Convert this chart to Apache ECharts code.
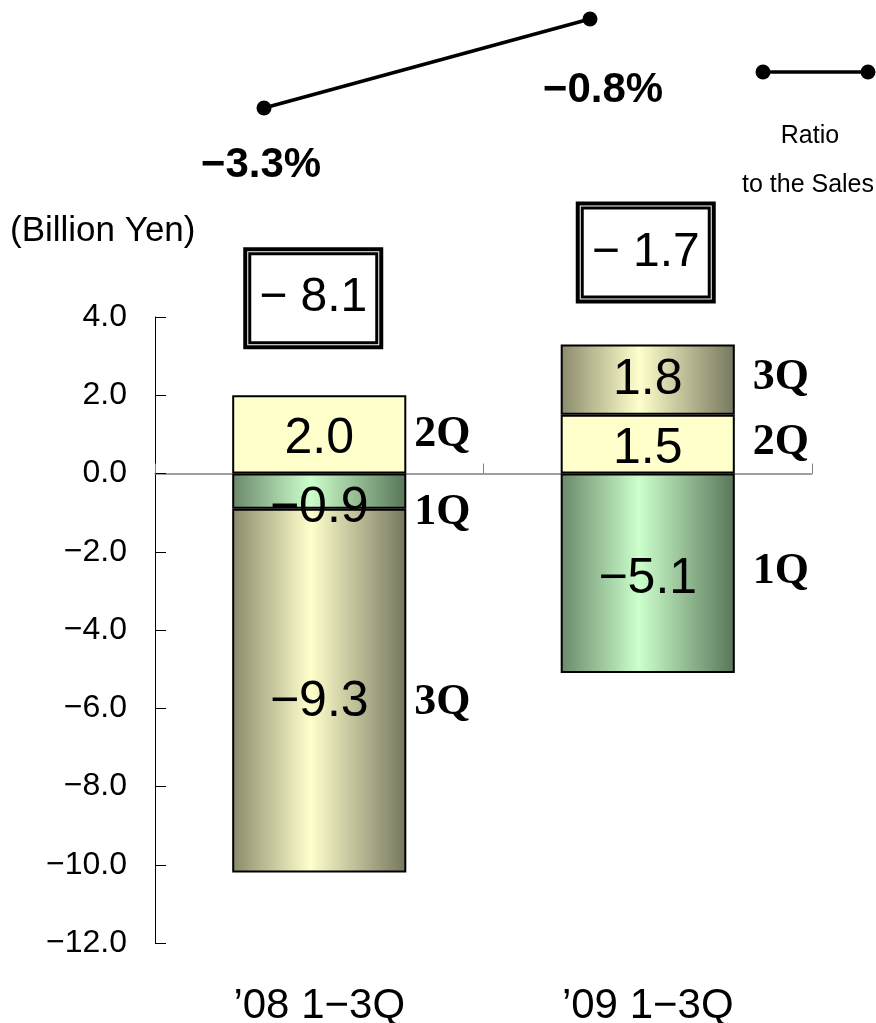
<!DOCTYPE html>
<html>
<head>
<meta charset="utf-8">
<script src="https://cdn.jsdelivr.net/npm/echarts@6/dist/echarts.min.js"></script>
<style>
html,body{margin:0;padding:0;background:#fff;}
#c{width:876px;height:1023px;}
</style>
</head>
<body>
<div id="c"></div>
<script>
// ---- data ----
var categories = ["\u201908 1\u22123Q", "\u201909 1\u22123Q"];
var q1 = [-0.9, -5.1];
var q2 = [2.0, 1.5];
var q3 = [-9.3, 1.8];
var totals = [-8.1, -1.7];
var ratio = [-3.3, -0.8];
var yTicks = { min: -12, max: 4, interval: 2 };

function fmt(v) { return (v < 0 ? "\u2212" : "") + Math.abs(v).toFixed(1); }

var FONT = "Liberation Sans";
var greenGrad = { type: 'linear', x: 0, y: 0, x2: 1, y2: 0, colorStops: [
  { offset: 0, color: '#6a886a' }, { offset: 0.45, color: '#ccffcc' }, { offset: 1, color: '#587558' }] };
var oliveGrad = { type: 'linear', x: 0, y: 0, x2: 1, y2: 0, colorStops: [
  { offset: 0, color: '#8a8a6c' }, { offset: 0.45, color: '#ffffcc' }, { offset: 1, color: '#76765e' }] };
var yellow = '#ffffcc';

var barW = '53%';
function valueSeries(name, data, color, offsets) {
  return {
    name: name, type: 'bar', stack: 'v', xAxisIndex: 0, yAxisIndex: 0, barWidth: barW,
    itemStyle: { color: color, borderColor: '#000', borderWidth: 2 },
    label: { show: true, position: 'inside', color: '#000', fontFamily: FONT, fontSize: 50,
      formatter: function (p) { return fmt(p.value); } },
    data: data.map(function (v, i) { return { value: v, label: { offset: [0, offsets[i]] } }; })
  };
}
function nameSeries(name, data, offsets) {
  return {
    name: name, type: 'bar', stack: 'n', xAxisIndex: 1, yAxisIndex: 0, barWidth: barW,
    itemStyle: { color: 'rgba(0,0,0,0)', borderWidth: 0 }, silent: true,
    label: { show: true, position: 'right', color: '#000', fontFamily: 'Liberation Serif', fontWeight: 'bold', fontSize: 44,
      formatter: function (p) { return p.seriesName; } },
    data: data.map(function (v, i) { return { value: v, label: { offset: [0, offsets[i]], distance: i === 0 ? 8 : 18 } }; })
  };
}
// positive stacked heights (where the total box sits above)
var posTop = categories.map(function (c, i) {
  return [q1[i], q2[i], q3[i]].filter(function (v) { return v > 0; }).reduce(function (a, b) { return a + b; }, 0);
});

var option = {
  backgroundColor: '#fff',
  animation: false,
  grid: [
    { left: 155, right: 64, top: 317, bottom: 80, containLabel: false, outerBoundsMode: 'none' },
    { left: 101, width: 652, top: 19, height: 89, containLabel: false, outerBoundsMode: 'none' }
  ],
  xAxis: [
    { type: 'category', gridIndex: 0, data: categories, position: 'bottom',
      axisLine: { onZero: true, lineStyle: { color: '#808080', width: 1.5 } },
      axisTick: { show: true, inside: true, length: 10, lineStyle: { color: '#808080' } },
      axisLabel: { show: false }, splitLine: { show: false } },
    { type: 'category', gridIndex: 0, data: categories, position: 'bottom',
      axisLine: { show: false, onZero: false }, axisTick: { show: false },
      axisLabel: { show: true, margin: 42, color: '#000', fontFamily: FONT, fontSize: 42 } },
    { type: 'category', gridIndex: 0, data: categories, show: false },
    { type: 'category', gridIndex: 1, data: categories, show: false }
  ],
  yAxis: [
    { type: 'value', gridIndex: 0, min: yTicks.min, max: yTicks.max, interval: yTicks.interval,
      axisLine: { show: true, lineStyle: { color: '#000', width: 1 } },
      axisTick: { show: true, inside: true, length: 11, lineStyle: { color: '#000' } },
      axisLabel: { color: '#000', fontFamily: FONT, fontSize: 32, margin: 28, formatter: fmt },
      splitLine: { show: false } },
    { type: 'value', gridIndex: 1, min: -3.3, max: -0.8, show: false, splitLine: { show: false } }
  ],
  series: [
    valueSeries('1Q', q1, greenGrad, [17, 6]),
    valueSeries('2Q', q2, yellow, [5, 5]),
    valueSeries('3Q', q3, oliveGrad, [12, 1]),
    nameSeries('1Q', q1, [22, -2]),
    nameSeries('2Q', q2, [0, -2]),
    nameSeries('3Q', q3, [12, -2]),
    { name: 'total', type: 'bar', xAxisIndex: 2, yAxisIndex: 0, barWidth: barW, silent: true,
      itemStyle: { color: 'rgba(0,0,0,0)', borderWidth: 0 },
      label: { show: true, position: 'top',
        backgroundColor: '#fff', borderColor: '#000', borderWidth: 4, padding: 4,
        formatter: function (p) { return '{b|\u2212 ' + Math.abs(totals[p.dataIndex]).toFixed(1) + '}'; },
        rich: { b: { borderColor: '#000', borderWidth: 3, width: 124, height: 86, lineHeight: 86,
          align: 'center', verticalAlign: 'middle', fontFamily: FONT, fontSize: 48, color: '#000', backgroundColor: '#fff' } } },
      data: posTop.map(function (v, i) { return { value: v, label: { offset: [i === 0 ? -6 : -2, 0], distance: i === 0 ? 50 : 45 } }; })
    },
    { name: 'Ratio to the Sales', type: 'line', xAxisIndex: 3, yAxisIndex: 1,
      symbol: 'circle', symbolSize: 15, lineStyle: { color: '#000', width: 3.5 }, itemStyle: { color: '#000' },
      label: { show: true, position: 'bottom', distance: 29, color: '#000', fontFamily: FONT, fontWeight: 'bold', fontSize: 42,
        formatter: function (p) { return fmt(p.value) + '%'; } },
      data: ratio.map(function (v, i) { return { value: v, label: i === 1 ? { offset: [13, 14] } : { offset: [-3, 0] } }; })
    }
  ],
  graphic: [
    { type: 'text', left: 10, top: 214, style: { text: '(Billion Yen)', fontFamily: FONT, fontSize: 35, fill: '#000' } },
    { type: 'line', shape: { x1: 763, y1: 72, x2: 868, y2: 72 }, style: { stroke: '#000', lineWidth: 3.5 } },
    { type: 'circle', shape: { cx: 763, cy: 72, r: 7.5 }, style: { fill: '#000' } },
    { type: 'circle', shape: { cx: 868, cy: 72, r: 7.5 }, style: { fill: '#000' } },
    { type: 'text', x: 810, y: 136, style: { text: 'Ratio', fontFamily: FONT, fontSize: 25, fill: '#000', align: 'center', verticalAlign: 'middle' } },
    { type: 'text', x: 808, y: 185, style: { text: 'to the Sales', fontFamily: FONT, fontSize: 25, fill: '#000', align: 'center', verticalAlign: 'middle' } }
  ]
};
var chart = echarts.init(document.getElementById('c'));
chart.setOption(option);
</script>
</body>
</html>
